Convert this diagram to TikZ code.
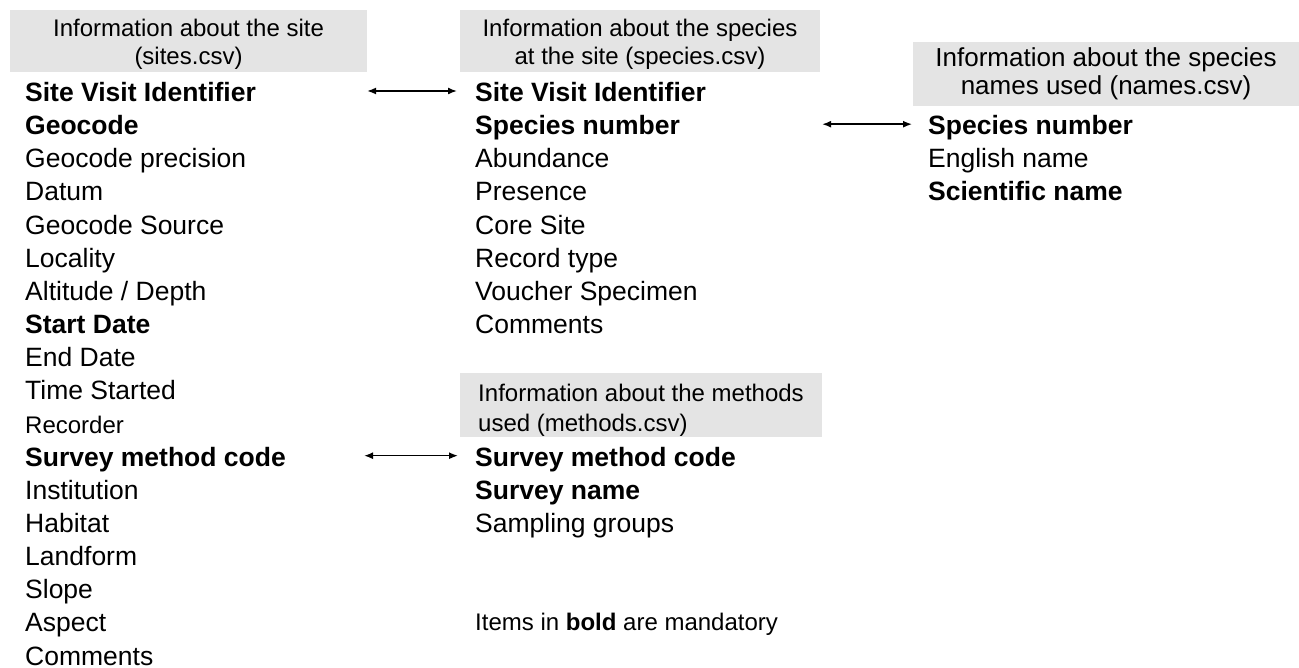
\documentclass[tikz,border=0pt]{standalone}
\usepackage{fontspec}
\setmainfont{Liberation Sans}
\usetikzlibrary{arrows.meta}
\definecolor{headgray}{HTML}{E4E4E4}
\begin{document}
\begin{tikzpicture}
    [
    x=1pt,y=-1pt,
    field/.style={anchor=base west,inner sep=0pt,text height=21pt,text depth=0pt,font=\fontsize{26.5}{30}\selectfont},
    key/.style={field,font=\fontsize{26.5}{30}\selectfont\bfseries},
    small/.style={field,font=\fontsize{24}{28}\selectfont},
    header/.style={fill=headgray,inner sep=0pt,align=center,font=\fontsize{24}{28}\selectfont},
    twoline/.style={text height=50pt,text depth=2pt},
    link/.style={{Latex[length=9pt,width=7pt]}-{Latex[length=9pt,width=7pt]},line width=1.5pt}
    ]
    \useasboundingbox (0,0) rectangle (1299,668);
    \node (sitehead) at (188.5,41) [header,twoline,minimum width=357pt,minimum height=62pt] {Information about the site\\(sites.csv)};
    \node (spechead) at (640,41) [header,twoline,minimum width=360pt,minimum height=62pt] {Information about the species\\at the site (species.csv)};
    \node (namehead) at (1106,74) [header,font=\fontsize{26}{28}\selectfont,minimum width=386pt,minimum height=64pt] {Information about the species\\names used (names.csv)};
    \node (methhead) at (641,405) [header,align=left,font=\fontsize{24}{30}\selectfont,text height=55pt,text depth=2pt,minimum width=362pt,minimum height=64pt] {Information about the methods\\used (methods.csv)};
    \node (svisite) at (25,101.5) [key] {Site Visit Identifier};
    \node (geocode) at (25,134.7) [key] {Geocode};
    \node (geoprec) at (25,167.8) [field] {Geocode precision};
    \node (datum) at (25,201.0) [field] {Datum};
    \node (geosrc) at (25,234.1) [field] {Geocode Source};
    \node (locality) at (25,267.3) [field] {Locality};
    \node (altitude) at (25,300.4) [field] {Altitude / Depth};
    \node (startdate) at (25,333.6) [key] {Start Date};
    \node (enddate) at (25,366.7) [field] {End Date};
    \node (timestart) at (25,399.9) [field] {Time Started};
    \node (recorder) at (25,433.0) [small] {Recorder};
    \node (smcsite) at (25,466.2) [key] {Survey method code};
    \node (institution) at (25,499.3) [field] {Institution};
    \node (habitat) at (25,532.5) [field] {Habitat};
    \node (landform) at (25,565.6) [field] {Landform};
    \node (slope) at (25,598.8) [field] {Slope};
    \node (aspect) at (25,631.9) [field] {Aspect};
    \node (sitecomm) at (25,665.0) [field] {Comments};
    \node (svispec) at (475,101.5) [key] {Site Visit Identifier};
    \node (spnumspec) at (475,134.7) [key] {Species number};
    \node (abundance) at (475,167.8) [field] {Abundance};
    \node (presence) at (475,201.0) [field] {Presence};
    \node (coresite) at (475,234.1) [field] {Core Site};
    \node (rectype) at (475,267.3) [field] {Record type};
    \node (voucher) at (475,300.4) [field] {Voucher Specimen};
    \node (speccomm) at (475,333.6) [field] {Comments};
    \node (smcmeth) at (475,466.2) [key] {Survey method code};
    \node (survname) at (475,499.3) [key] {Survey name};
    \node (sampgroups) at (475,532.5) [field] {Sampling groups};
    \node (note) at (475,630) [small] {Items in \textbf{bold} are mandatory};
    \node (spnumname) at (928,134.7) [key] {Species number};
    \node (english) at (928,167.8) [field] {English name};
    \node (scientific) at (928,201.0) [key] {Scientific name};
    \draw [link,shorten <=111pt,shorten >=18pt] (svisite) to (svispec);
    \draw [link,shorten <=142pt,shorten >=16pt] (spnumspec) to (spnumname);
    \draw [link,shorten <=78pt,shorten >=17pt] (smcsite) to (smcmeth);
  \end{tikzpicture}
\end{document}
